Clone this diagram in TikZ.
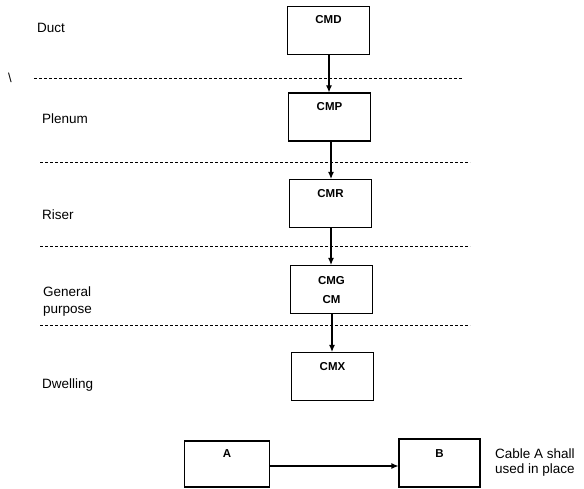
\documentclass[tikz,border=0pt]{standalone}
\usepackage{fontspec}
\setmainfont{Liberation Sans}
\usetikzlibrary{arrows.meta}
\begin{document}
\begin{tikzpicture}[x=1pt,y=-1pt,
  cbox/.style={draw,line width=1.1pt,minimum width=82pt,minimum height=48pt,inner sep=0pt},
  blabel/.style={font=\bfseries\fontsize{11.5}{13}\selectfont,inner sep=0pt},
  side/.style={font=\fontsize{13.5}{15}\selectfont,anchor=west,inner sep=0pt,align=left},
  sep/.style={dash pattern=on 3pt off 2pt,line width=0.6pt},
  arr/.style={-{Latex[length=7pt,width=6pt]},line width=1.1pt}]
\useasboundingbox (0,0) rectangle (584,489);
% boxes
\node[cbox] (cmd) at (328.5,30.5) {};
\node[cbox] (cmp) at (329.5,117) {};
\node[cbox] (cmr) at (330.5,203.5) {};
\node[cbox] (cmg) at (331.5,289.5) {};
\node[cbox] (cmx) at (332.5,376.5) {};
\node[cbox,minimum width=85pt,minimum height=46pt] (a) at (227,464) {};
\node[cbox,minimum width=81pt,minimum height=48pt] (b) at (439.5,463) {};
% box labels
\node[blabel] at (328.5,20) {CMD};
\node[blabel] at (329.5,107) {CMP};
\node[blabel] at (330.5,194) {CMR};
\node[blabel] at (331.5,281) {CMG};
\node[blabel] at (331.5,300) {CM};
\node[blabel] at (332.5,367) {CMX};
\node[blabel] at (227,454) {A};
\node[blabel] at (439.5,454) {B};
% side labels
\node[side] (lduct) at (37,28) {Duct};
\node[side] (lplen) at (42,119) {Plenum};
\node[side] (lris) at (42,215) {Riser};
\node[side,font=\fontsize{13.5}{16.5}\selectfont] (lgen) at (43,301.5) {General\\purpose};
\node[side] (ldwel) at (42,385) {Dwelling};
\node[side] (note) at (495,462.5) {Cable A shall\\used in place};
\node[font=\fontsize{13}{15}\selectfont,inner sep=0pt] (bs) at (10,78) {\textbackslash};
% dashed separators
\draw[sep] (34,78) -- (462,78);
\draw[sep] (40,162) -- (470,162);
\draw[sep] (40,246) -- (470,246);
\draw[sep] (40,325) -- (470,325);
% arrows
\draw[arr] (cmd.south -| 329,0) -- (cmp.north -| 329,0);
\draw[arr] (cmp.south -| 331,0) -- (cmr.north -| 331,0);
\draw[arr] (cmr.south -| 331,0) -- (cmg.north -| 331,0);
\draw[arr] (cmg.south -| 332,0) -- (cmx.north -| 332,0);
\draw[arr] (a.east |- 0,466) -- (b.west |- 0,466);
\end{tikzpicture}
\end{document}
